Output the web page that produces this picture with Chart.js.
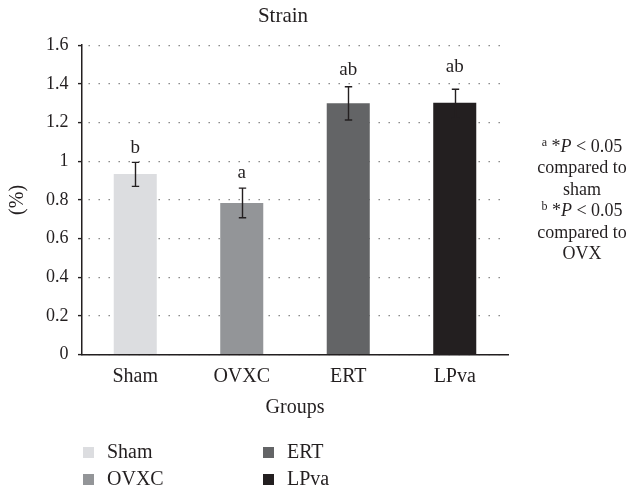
<!DOCTYPE html>
<html><head><meta charset="utf-8">
<script src="https://cdn.jsdelivr.net/npm/chart.js@4/dist/chart.umd.min.js"></script>
<style>
html,body{margin:0;padding:0;background:#fff;}
#wrap{position:relative;width:629px;height:488px;font-family:"Liberation Serif","DejaVu Serif",serif;color:#231f20;overflow:hidden;}
#c{position:absolute;left:0;top:0;}
#title{position:absolute;left:183px;width:200px;top:2px;text-align:center;font-size:21px;line-height:26px;}
.note{position:absolute;left:522px;top:136px;width:120px;text-align:center;font-size:18px;line-height:21.4px;white-space:nowrap;}
.note sup{font-size:12px;vertical-align:6px;line-height:0;}
.sw{position:absolute;width:11px;height:11px;}
.lt{position:absolute;font-size:20px;line-height:20px;white-space:nowrap;}
</style></head>
<body><div id="wrap"><canvas id="c" width="629" height="488"></canvas>
<div id="title">Strain</div>
<div class="note"><sup>a</sup> *<i>P</i> &lt; 0.05<br>compared to<br>sham<br><sup>b</sup> *<i>P</i> &lt; 0.05<br>compared to<br>OVX</div>
<div id="legend"></div>
</div>
<script>
const categories = ["Sham", "OVXC", "ERT", "LPva"];
const means = [0.934, 0.784, 1.30, 1.302];
const errLow = [0.870, 0.708, 1.213, 1.222];
const errHigh = [0.994, 0.861, 1.385, 1.372];
const sigLetters = ["b", "a", "ab", "ab"];
const yTicks = [0, 0.2, 0.4, 0.6, 0.8, 1, 1.2, 1.4, 1.6];
const colors = ["#dcdde0", "#939598", "#636466", "#231f20"];
// style-only constants
const letterGap = [9, 10, 12, 17];
const ink = "#231f20";
const FONT = '"Liberation Serif","DejaVu Serif",serif';

// HTML legend from arrays
const legPos = [[83,447],[83,473.5],[263,447],[263,473.5]];
const legEl = document.getElementById('legend');
categories.forEach((c,i)=>{
  const s=document.createElement('div');s.className='sw';
  s.style.left=legPos[i][0]+'px';s.style.top=legPos[i][1]+'px';s.style.background=colors[i];
  const t=document.createElement('div');t.className='lt';
  t.style.left=(legPos[i][0]+24)+'px';t.style.top=(legPos[i][1]-5.7)+'px';t.textContent=c;
  legEl.appendChild(s);legEl.appendChild(t);
});

const errPlugin = {
  id:'errbars',
  afterDatasetsDraw(chart){
    const ctx=chart.ctx, y=chart.scales.y, meta=chart.getDatasetMeta(0);
    ctx.save();
    ctx.strokeStyle=ink;ctx.lineWidth=1.4;
    meta.data.forEach((bar,i)=>{
      const x=Math.round(bar.x)+0.5, t=y.getPixelForValue(errHigh[i]), b=y.getPixelForValue(errLow[i]);
      ctx.beginPath();
      ctx.moveTo(x,t);ctx.lineTo(x,b);
      ctx.moveTo(x-3.7,t);ctx.lineTo(x+3.7,t);
      ctx.moveTo(x-3.7,b);ctx.lineTo(x+3.7,b);
      ctx.stroke();
      ctx.fillStyle=ink;ctx.font='19px '+FONT;ctx.textAlign='center';ctx.textBaseline='alphabetic';
      ctx.fillText(sigLetters[i],bar.x,t-letterGap[i]);
    });
    ctx.restore();
  }
};

new Chart(document.getElementById('c'),{
  type:'bar',
  data:{labels:categories,datasets:[{data:means,backgroundColor:colors,borderWidth:0,categoryPercentage:1,barPercentage:0.404}]},
  options:{
    responsive:false,animation:false,
    layout:{padding:{left:0,right:121,top:45.2,bottom:68}},
    plugins:{legend:{display:false},tooltip:{enabled:false},title:{display:false}},
    scales:{
      x:{
        afterFit(s){s.height=65.3;},
        grid:{display:false,drawTicks:false},
        border:{display:true,color:ink,width:1.5},
        ticks:{color:ink,font:{family:FONT,size:20},padding:10.5},
        title:{display:true,text:'Groups',color:ink,font:{family:FONT,size:20},padding:{top:0,bottom:0}}
      },
      y:{
        min:0,max:1.6,
        afterBuildTicks(s){s.ticks=yTicks.map(v=>({value:v}));},
        afterFit(s){s.width=82;},
        grid:{color:'#808080',lineWidth:1.2,tickLength:4,tickColor:ink,tickBorderDash:[],tickWidth:1.4},
        border:{display:true,color:ink,width:1.5,dash:[1.4,8.6],dashOffset:-6},
        ticks:{color:ink,font:{family:FONT,size:18},padding:9.5,callback:v=>String(v)},
        title:{display:true,text:'(%)',color:ink,font:{family:FONT,size:20},padding:{top:6,bottom:0}}
      }
    }
  },
  plugins:[errPlugin]
});
</script></body></html>
